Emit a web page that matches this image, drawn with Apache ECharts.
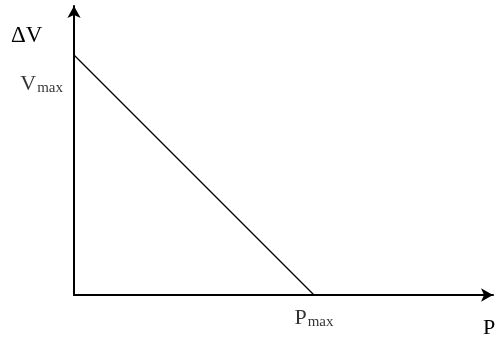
<!DOCTYPE html>
<html>
<head>
<meta charset="utf-8">
<script src="https://cdn.jsdelivr.net/npm/echarts@6/dist/echarts.min.js"></script>
</head>
<body style="margin:0">
<div id="main" style="width:496px;height:341px"></div>
<script>
// the line runs from (0, Vmax) down to (Pmax, 0)
var xMax = 419, yMax = 289;
var vMax = 240, pMax = 240;
var linePoints = [[0, vMax], [pMax, 0]];
var pointLabels = ['{b|V}{s|max}', '{b|P}{s|max}'];

var chart = echarts.init(document.getElementById('main'));
var serif = 'Liberation Serif';
var rich = {
    b: { fontFamily: serif, fontSize: 22, color: '#000' },
    s: { fontFamily: serif, fontSize: 15, color: '#000', padding: [8, 0, 0, 1] }
};
chart.setOption({
    animation: false,
    grid: { left: 74, right: 3, top: 6, bottom: 46 },
    xAxis: {
        type: 'value', min: 0, max: xMax,
        axisLine: { lineStyle: { color: '#000', width: 2 }, symbol: ['none', 'arrow'], symbolSize: [10, 12] },
        axisTick: { show: false }, axisLabel: { show: false }, splitLine: { show: false }
    },
    yAxis: {
        type: 'value', min: 0, max: yMax,
        axisLine: { lineStyle: { color: '#000', width: 2 }, symbol: ['none', 'arrow'], symbolSize: [10, 12] },
        axisTick: { show: false }, axisLabel: { show: false }, splitLine: { show: false }
    },
    graphic: [
        { type: 'text', left: 11, top: 24, style: { text: 'ΔV', font: '23px "Liberation Serif"', fill: '#000' } },
        { type: 'text', left: 483, top: 317, style: { text: 'P', font: '22px "Liberation Serif"', fill: '#000' } }
    ],
    series: [{
        type: 'line',
        data: linePoints,
        symbol: 'none',
        lineStyle: { color: '#000', width: 1.3 },
        label: { show: false },
        endLabel: { show: false }
    }, {
        type: 'scatter',
        symbolSize: 0,
        silent: true,
        data: [
            { value: linePoints[0], label: { show: true, position: 'left', distance: 11, offset: [0, 29], formatter: pointLabels[0] } },
            { value: linePoints[1], label: { show: true, position: 'bottom', distance: 12, offset: [0, 0], formatter: pointLabels[1] } }
        ],
        label: { fontFamily: serif, fontSize: 22, color: '#000', textBorderWidth: 0, rich: rich }
    }]
});
</script>
</body>
</html>
